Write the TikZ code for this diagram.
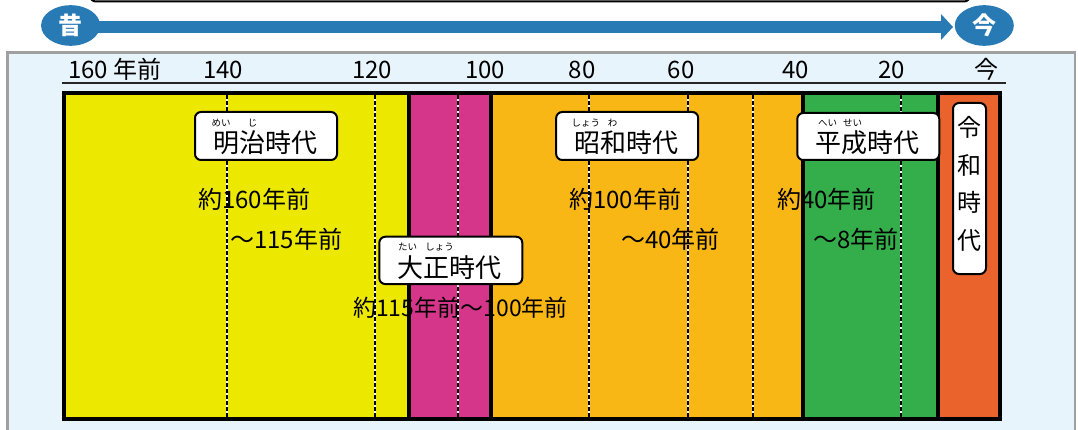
\documentclass[tikz,border=0pt]{standalone}
\usepackage{fontspec}
\setmainfont{Noto Sans CJK JP}
\usetikzlibrary{shapes.geometric}
\definecolor{panelbg}{RGB}{232,244,252}
\definecolor{panelborder}{RGB}{160,160,160}
\definecolor{tblue}{RGB}{40,122,180}
\definecolor{cmeiji}{RGB}{237,232,0}
\definecolor{ctaisho}{RGB}{214,54,138}
\definecolor{cshowa}{RGB}{249,183,21}
\definecolor{cheisei}{RGB}{51,174,75}
\definecolor{creiwa}{RGB}{235,99,44}
\begin{document}
\begin{tikzpicture}[x=1pt,y=-1pt,
  lbox/.style={draw=black, line width=2pt, fill=white, rounded corners=6pt, inner sep=0pt},
  ruby/.style={font=\fontsize{9.5}{10}\selectfont, inner sep=0pt},
  bodytxt/.style={font=\fontsize{24}{26}\selectfont, inner sep=0pt, anchor=west},
  axislbl/.style={font=\fontsize{24}{26}\selectfont, inner sep=0pt, anchor=base},
  eratxt/.style={font=\fontsize{26}{28}\selectfont, inner sep=0pt},
  endpt/.style={ellipse, fill=tblue, inner sep=0pt, minimum width=59pt, minimum height=40.6pt,
     text=white, font=\fontsize{24}{26}\selectfont\bfseries},
  divider/.style={line width=3.5pt, black},
  dashunder/.style={line width=2pt, white},
  dashover/.style={line width=2pt, black, dash pattern=on 4pt off 2pt}
]
\useasboundingbox (0,0) rectangle (1078,430);
\clip (0,0) rectangle (1078,430);
% top partially visible box
\draw[line width=2pt, fill=white, rounded corners=6pt] (90,-30) rectangle (970,1.5);
% panel
\fill[panelbg] (7.6,52.3) rectangle (1075,440);
\draw[panelborder, line width=2.6pt] (7.6,440) -- (7.6,52.3) -- (1075,52.3) -- (1075,440);
% timeline arrow
\fill[tblue] (70,21.5) rectangle (942,33.5);
\fill[tblue] (941,14) -- (953,27) -- (941,40) -- cycle;
\node[endpt] (mukashi) at (70.6,25.5) {昔};
\node[endpt] (ima) at (984.3,25.5) {今};
% axis labels
\node[axislbl, anchor=base west] (a160) at (68,78.5) {160 年前};
\node[axislbl] (a140) at (223,78.5) {140};
\node[axislbl] (a120) at (372,78.5) {120};
\node[axislbl] (a100) at (485,78.5) {100};
\node[axislbl] (a80) at (582,78.5) {80};
\node[axislbl] (a60) at (681,78.5) {60};
\node[axislbl] (a40) at (795.4,78.5) {40};
\node[axislbl] (a20) at (891.5,78.5) {20};
\node[axislbl] (a0) at (986.5,78.5) {今};
\draw[line width=1.2pt, black!85] (62,83) -- (1006,83);
% era segments
\fill[cmeiji] (64,93.3) rectangle (409,418.6);
\fill[ctaisho] (409,93.3) rectangle (491,418.6);
\fill[cshowa] (491,93.3) rectangle (803,418.6);
\fill[cheisei] (803,93.3) rectangle (938,418.6);
\fill[creiwa] (938,93.3) rectangle (1000,418.6);
% dashed guide lines
\foreach \xx in {227.3,375.4,458,589,687.8,753.2,900.6}{
  \draw[dashunder] (\xx,95) -- (\xx,417);
  \draw[dashover] (\xx,95) -- (\xx,417);
}
% dividers
\foreach \xx in {409,491,803,938}{
  \draw[divider] (\xx,93.3) -- (\xx,418.6);
}
\draw[line width=4pt] (64,93.3) rectangle (1000,418.6);
% period texts
\node[bodytxt] (t1) at (198,199) {約160年前};
\node[bodytxt] (t2) at (230,239) {～115年前};
\node[bodytxt, font=\fontsize{23}{25}\selectfont] (t3) at (353,307.5) {約115年前～100年前};
\node[bodytxt] (t4) at (569,199) {約100年前};
\node[bodytxt] (t5) at (621,239) {～40年前};
\node[bodytxt] (t6) at (777,199) {約40年前};
\node[bodytxt] (t7) at (813,239) {～8年前};
% era label boxes
\node[lbox, minimum width=142pt, minimum height=48pt] (meiji) at (266,136) {};
\node[eratxt] (meijiT) at (265,142.4) {明治時代};
\node[ruby] (meijiR1) at (221,123.3) {めい};
\node[ruby] (meijiR2) at (252.5,123.3) {じ};

\node[lbox, minimum width=143pt, minimum height=47.3pt] (taisho) at (450.8,260.4) {};
\node[eratxt] (taishoT) at (449.7,267.5) {大正時代};
\node[ruby] (taishoR1) at (407.5,247.2) {たい};
\node[ruby] (taishoR2) at (439.5,247.2) {しょう};

\node[lbox, minimum width=142pt, minimum height=48pt] (showa) at (627.2,136) {};
\node[eratxt] (showaT) at (626,142.4) {昭和時代};
\node[ruby] (showaR1) at (585.8,123.3) {しょう};
\node[ruby] (showaR2) at (612.5,123.3) {わ};

\node[lbox, minimum width=142pt, minimum height=47pt] (heisei) at (868.3,136.5) {};
\node[eratxt] (heiseiT) at (867.5,142.4) {平成時代};
\node[ruby] (heiseiR1) at (827.5,123.3) {へい};
\node[ruby] (heiseiR2) at (852.5,123.3) {せい};

\node[lbox, minimum width=33pt, minimum height=171pt] (reiwa) at (969.5,188.5) {};
\node[inner sep=0pt, align=center, font=\fontsize{24}{37.5}\selectfont] (reiwaT) at (969.5,184) {令\\和\\時\\代};
\end{tikzpicture}
\end{document}
